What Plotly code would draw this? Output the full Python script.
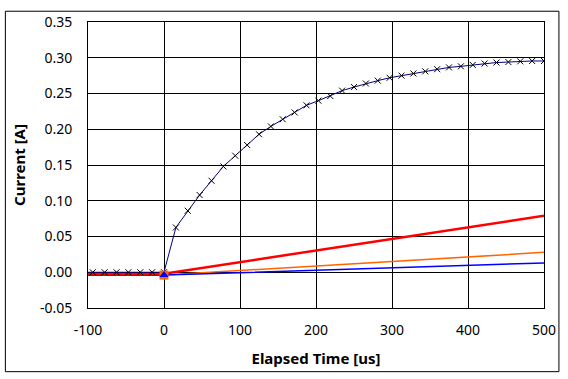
import plotly.graph_objects as go

# Navy series (sampled every 15.625 us)
t_navy = [-109.375, -93.75, -78.125, -62.5, -46.875, -31.25, -15.625] + [15.625 * k for k in range(0, 33)]
i_navy = [0.0, 0.0, 0.0, 0.0, 0.0, 0.0, 0.0,
          0.0, 0.0626, 0.086, 0.108, 0.128, 0.148, 0.163, 0.178,
          0.193, 0.204, 0.214, 0.2235, 0.2335, 0.240, 0.2465, 0.254,
          0.259, 0.264, 0.268, 0.272, 0.275, 0.278, 0.281, 0.284,
          0.2865, 0.288, 0.290, 0.292, 0.2933, 0.294, 0.295, 0.2955, 0.2955]

t_lin = [-110, 0, 500]
i_red = [-0.002, -0.002, 0.079]
i_orange = [-0.004, -0.004, 0.0278]
i_blue = [-0.004, -0.004, 0.013]

x_ticks = [-100, 0, 100, 200, 300, 400, 500]
x_ticktext = ["-100", "0", "100", "200", "300", "400", "500"]
y_ticks = [-0.05, 0.0, 0.05, 0.10, 0.15, 0.20, 0.25, 0.30, 0.35]
y_ticktext = ["-0.05", "0.00", "0.05", "0.10", "0.15", "0.20", "0.25", "0.30", "0.35"]

fig = go.Figure()
fig.add_trace(go.Scatter(x=t_lin, y=i_orange, mode="lines",
                         line=dict(color="#ff6600", width=1.5), showlegend=False))
fig.add_trace(go.Scatter(x=t_lin, y=i_blue, mode="lines",
                         line=dict(color="#0000ff", width=1.5), showlegend=False))
fig.add_trace(go.Scatter(x=t_lin, y=i_red, mode="lines",
                         line=dict(color="#ff0000", width=2.5), showlegend=False))
fig.add_trace(go.Scatter(x=t_navy, y=i_navy, mode="lines+markers",
                         line=dict(color="#000080", width=1),
                         marker=dict(symbol="x-thin", size=6, color="black",
                                     line=dict(color="black", width=1)),
                         showlegend=False))
fig.add_trace(go.Scatter(x=[t_lin[1]], y=[i_orange[1]], mode="markers",
                         marker=dict(symbol="square", size=9, color="#ff6600"),
                         showlegend=False))
fig.add_trace(go.Scatter(x=[t_lin[1]], y=[i_blue[1]], mode="markers",
                         marker=dict(symbol="triangle-up", size=8, color="#0000ff"),
                         showlegend=False))

font_family = "Noto Sans, DejaVu Sans, sans-serif"
fig.update_layout(
    width=568, height=379,
    margin=dict(l=88, r=22, t=16, b=71),
    paper_bgcolor="white", plot_bgcolor="white",
    font=dict(family=font_family, size=14, color="black"),
    xaxis=dict(range=[-100, 500], tickvals=x_ticks, ticktext=x_ticktext,
               showgrid=True, gridcolor="black", gridwidth=1,
               showline=True, linecolor="black", linewidth=1, mirror=True,
               zeroline=False, ticks="", ticklen=0, ticklabelstandoff=9,
               title=dict(text="<b>Elapsed Time [us]</b>", font=dict(size=15), standoff=15)),
    yaxis=dict(range=[-0.05, 0.35], tickvals=y_ticks, ticktext=y_ticktext,
               showgrid=True, gridcolor="black", gridwidth=1,
               showline=True, linecolor="black", linewidth=1, mirror=True,
               zeroline=False, ticks="", ticklen=0, ticklabelstandoff=12,
               title=dict(text="<b>Current [A]</b>", font=dict(size=15), standoff=10)),
    shapes=[dict(type="rect", xref="paper", yref="paper",
                 x0=-83 / 458, x1=1 + 15 / 458, y0=-65 / 292, y1=1 + 11 / 292,
                 line=dict(color="black", width=1), fillcolor="rgba(0,0,0,0)")],
)

fig.write_html("out.html", config={"displayModeBar": False},
               post_script="document.body.style.margin='0';document.body.style.padding='0';")
